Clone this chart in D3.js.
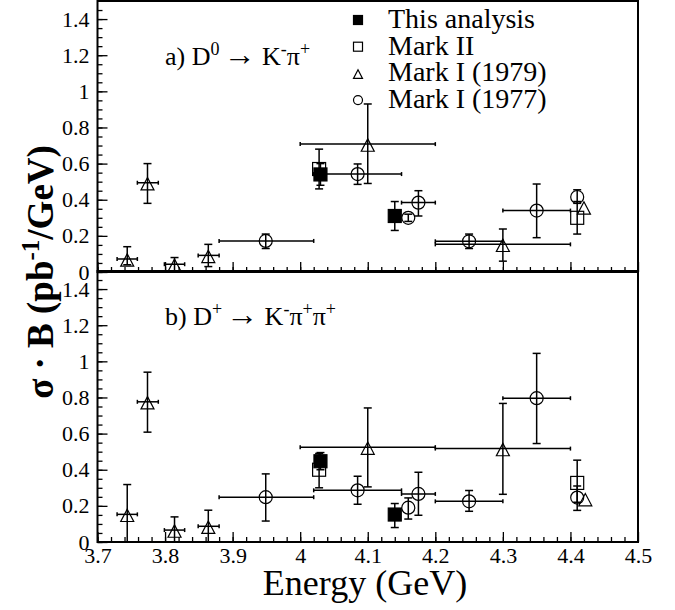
<!DOCTYPE html>
<html>
<head>
<meta charset="utf-8">
<script src="https://cdn.jsdelivr.net/npm/d3@7"></script>
<style>
body { margin: 0; background: #fff; }
svg { display: block; }
</style>
</head>
<body>
<svg id="chart" width="675" height="610" font-family="'Liberation Serif', 'Times New Roman', 'DejaVu Serif', serif"></svg>
<script>
// each row: [energy, value, yLow, yHigh, xLow, xHigh]  (missing = no bar)
var thisA = [[4.03, 0.54, 0.48, 0.60], [4.14, 0.31, 0.23, 0.39]];
var mark2A = [[4.028, 0.57, 0.46, 0.68], [4.41, 0.30, 0.21, 0.39]];
var mark79A = [
	[3.744, 0.072, 0.04, 0.14, 3.729, 3.759],
	[3.774, 0.494, 0.38, 0.60, 3.759, 3.79],
	[3.814, 0.043, 0.0, 0.08, 3.799, 3.829],
	[3.864, 0.092, 0.03, 0.153, 3.849, 3.88],
	[4.10, 0.708, 0.49, 0.93, 4.0, 4.2],
	[4.30, 0.153, 0.06, 0.238, 4.2, 4.4],
	[4.42, 0.36]
];
var mark77A = [
	[3.949, 0.172, 0.13, 0.21, 3.88, 4.02],
	[4.085, 0.542, 0.485, 0.598, 4.02, 4.15],
	[4.16, 0.30, 0.28, 0.32],
	[4.175, 0.384, 0.31, 0.45, 4.15, 4.2],
	[4.25, 0.17, 0.13, 0.21, 4.2, 4.3],
	[4.35, 0.34, 0.19, 0.487, 4.3, 4.4],
	[4.41, 0.415, 0.38, 0.455]
];

var thisB = [[4.03, 0.447, 0.40, 0.495], [4.14, 0.152, 0.08, 0.213]];
var mark2B = [[4.028, 0.40, 0.30, 0.49], [4.41, 0.327, 0.22, 0.453]];
var mark79B = [
	[3.744, 0.153, 0.0, 0.318, 3.729, 3.759],
	[3.774, 0.776, 0.608, 0.94, 3.759, 3.79],
	[3.814, 0.066, 0.0, 0.139, 3.799, 3.829],
	[3.864, 0.087, 0.0, 0.176, 3.849, 3.88],
	[4.10, 0.525, 0.305, 0.742, 4.0, 4.2],
	[4.30, 0.517, 0.264, 0.767, 4.2, 4.4],
	[4.422, 0.24]
];
var mark77B = [
	[3.949, 0.248, 0.116, 0.377, 3.88, 4.02],
	[4.085, 0.286, 0.209, 0.364, 4.02, 4.15],
	[4.16, 0.19, 0.127, 0.244],
	[4.175, 0.266, 0.148, 0.386, 4.15, 4.2],
	[4.25, 0.225, 0.17, 0.285, 4.2, 4.3],
	[4.35, 0.796, 0.545, 1.044, 4.3, 4.4],
	[4.41, 0.246, 0.175, 0.31]
];

var legendNames = ['This analysis', 'Mark II', 'Mark I (1979)', 'Mark I (1977)'];
var legendShapes = ['fsquare', 'square', 'triangle', 'circle'];
var yMajorTicks = [0, 0.2, 0.4, 0.6, 0.8, 1.0, 1.2, 1.4];
var xMajorTicks = [3.7, 3.8, 3.9, 4.0, 4.1, 4.2, 4.3, 4.4, 4.5];

var FONT = "'Liberation Serif', 'Times New Roman', 'DejaVu Serif', serif";
var svg = d3.select('#chart');

var x = d3.scaleLinear().domain([3.7, 4.5]).range([97.5, 638]);

var panels = [
	{ y: d3.scaleLinear().domain([0, 1.5]).range([272, 1]), series: [thisA, mark2A, mark79A, mark77A], xlabels: false },
	{ y: d3.scaleLinear().domain([0, 1.5]).range([542, 271]), series: [thisB, mark2B, mark79B, mark77B], xlabels: true }
];

function marker(g, shape, cx, cy, s) {
	// s = half size
	if (shape == 'fsquare' || shape == 'square') {
		g.append('rect')
			.attr('x', cx - s).attr('y', cy - s)
			.attr('width', 2 * s).attr('height', 2 * s)
			.attr('fill', shape == 'fsquare' ? '#000' : 'none')
			.attr('stroke', '#000').attr('stroke-width', 1.2);
	} else if (shape == 'triangle') {
		var top = cy - s * 0.8, bot = cy + s * 1.1;
		g.append('path')
			.attr('d', 'M' + cx + ',' + top + 'L' + (cx + s) + ',' + bot + 'L' + (cx - s) + ',' + bot + 'Z')
			.attr('fill', 'none').attr('stroke', '#000').attr('stroke-width', 1.2);
	} else {
		g.append('circle')
			.attr('cx', cx).attr('cy', cy).attr('r', s)
			.attr('fill', 'none').attr('stroke', '#000').attr('stroke-width', 1.2);
	}
}

panels.forEach(function(p) {
	var y = p.y;
	var g = svg.append('g');

	// minor ticks
	var yMinor = d3.range(0, 1.5, 0.05);
	g.append('g')
		.attr('transform', 'translate(' + x.range()[0] + ',0)')
		.call(d3.axisLeft(y).tickValues(yMinor).tickSize(-5).tickSizeOuter(0).tickFormat(''))
		.call(function(a) { a.select('.domain').remove(); });
	var xMinor = d3.range(3.7, 4.5, 0.02);
	g.append('g')
		.attr('transform', 'translate(0,' + y(0) + ')')
		.call(d3.axisBottom(x).tickValues(xMinor).tickSize(-5).tickSizeOuter(0).tickFormat(''))
		.call(function(a) { a.select('.domain').remove(); });

	// major ticks
	var ya = g.append('g')
		.attr('transform', 'translate(' + x.range()[0] + ',0)')
		.call(d3.axisLeft(y).tickValues(yMajorTicks).tickSize(-10).tickSizeOuter(0).tickPadding(8).tickFormat(d3.format('~g')));
	ya.select('.domain').remove();
	ya.attr('font-family', FONT).attr('font-size', 22);

	var xa = g.append('g')
		.attr('transform', 'translate(0,' + y(0) + ')')
		.call(d3.axisBottom(x).tickValues(xMajorTicks).tickSize(-10).tickSizeOuter(0).tickPadding(5)
			.tickFormat(p.xlabels ? d3.format('~g') : ''));
	xa.select('.domain').remove();
	xa.attr('font-family', FONT).attr('font-size', 22);

	g.selectAll('.tick line').attr('stroke-width', 1.3);

	// frame
	g.append('rect')
		.attr('x', x.range()[0]).attr('y', y.range()[1])
		.attr('width', x.range()[1] - x.range()[0])
		.attr('height', y.range()[0] - y.range()[1])
		.attr('fill', 'none').attr('stroke', '#000').attr('stroke-width', 2);

	// data
	p.series.forEach(function(rows, si) {
		var shape = legendShapes[si];
		rows.forEach(function(r) {
			var cx = x(r[0]), cy = y(r[1]);
			var eg = g.append('g').attr('stroke', '#000').attr('stroke-width', 1.5);
			if (r.length > 4) {
				var x0 = x(r[4]), x1 = x(r[5]);
				eg.append('line').attr('x1', x0).attr('x2', x1).attr('y1', cy).attr('y2', cy);
				eg.append('line').attr('x1', x0).attr('x2', x0).attr('y1', cy - 2).attr('y2', cy + 2);
				eg.append('line').attr('x1', x1).attr('x2', x1).attr('y1', cy - 2).attr('y2', cy + 2);
			}
			if (r.length > 2) {
				var y0 = y(r[2]), y1 = y(r[3]);
				eg.append('line').attr('x1', cx).attr('x2', cx).attr('y1', y0).attr('y2', y1);
				eg.append('line').attr('x1', cx - 4).attr('x2', cx + 4).attr('y1', y0).attr('y2', y0);
				eg.append('line').attr('x1', cx - 4).attr('x2', cx + 4).attr('y1', y1).attr('y2', y1);
			}
			marker(g, shape, cx, cy, 6.5);
		});
	});
});

// panel labels
function sup(t, s) {
	t.append('tspan').attr('dy', -10).attr('font-size', 18).text(s);
}
function arrow(t) {
	t.append('tspan').attr('dy', 10).attr('dx', 4).attr('font-size', 32).text('\u2192');
	t.append('tspan').text(' K');
}
var la = svg.append('text').attr('x', 165).attr('y', 65).attr('font-size', 26).attr('font-family', FONT);
la.append('tspan').text('a) D');
sup(la, '0');
arrow(la);
sup(la, '-');
la.append('tspan').attr('dy', 10).text('\u03c0');
sup(la, '+');

var lb = svg.append('text').attr('x', 165).attr('y', 325).attr('font-size', 26).attr('font-family', FONT);
lb.append('tspan').text('b) D');
sup(lb, '+');
arrow(lb);
sup(lb, '-');
lb.append('tspan').attr('dy', 10).text('\u03c0');
sup(lb, '+');
lb.append('tspan').attr('dy', 10).text('\u03c0');
sup(lb, '+');

// legend
legendNames.forEach(function(name, i) {
	var ly = 20 + i * 26.7;
	marker(svg, legendShapes[i], 358, ly, 4.5);
	svg.append('text')
		.attr('x', 388).attr('y', ly + 8)
		.attr('font-size', 28)
		.attr('font-family', FONT)
		.text(name);
});

// axis titles
var yt = svg.append('text')
	.attr('transform', 'translate(53,272) rotate(-90)')
	.attr('text-anchor', 'middle')
	.attr('font-family', FONT)
	.attr('font-size', 37)
	.attr('font-weight', 'bold');
yt.append('tspan').text('\u03c3 \u00b7 B (pb');
yt.append('tspan').attr('dy', -14).attr('font-size', 25).text('-1');
yt.append('tspan').attr('dy', 14).text('/GeV)');

svg.append('text')
	.attr('x', 365).attr('y', 595)
	.attr('text-anchor', 'middle')
	.attr('font-family', FONT)
	.attr('font-size', 36)
	.text('Energy (GeV)');
</script>
</body>
</html>
